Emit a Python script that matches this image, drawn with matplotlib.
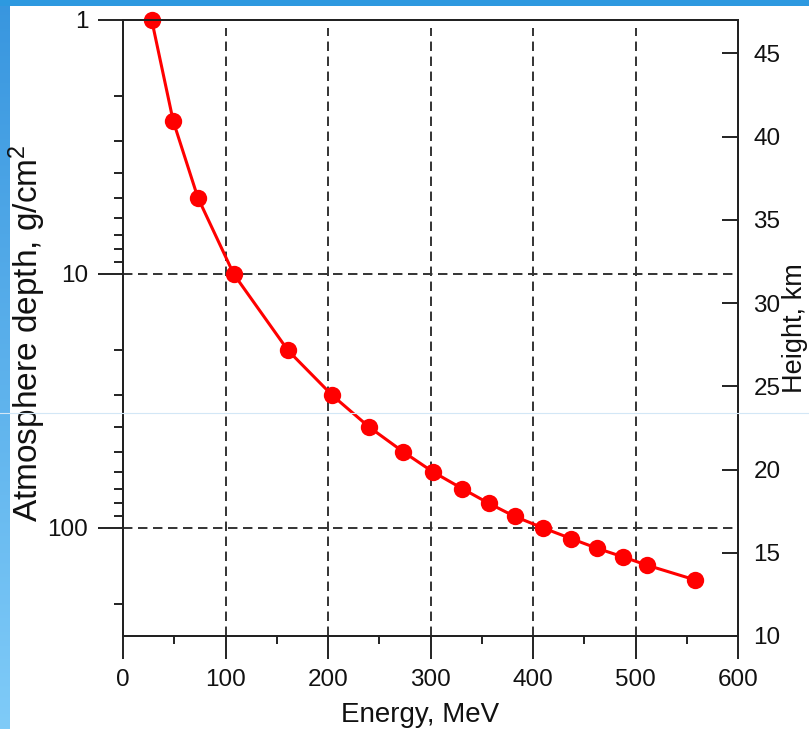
import numpy as np
import matplotlib
matplotlib.use("Agg")
import matplotlib.pyplot as plt
from matplotlib.ticker import FixedLocator, MultipleLocator, LogLocator, NullFormatter, FuncFormatter
from matplotlib.lines import Line2D
from matplotlib.colors import LinearSegmentedColormap

# ---- data ----
energy_mev = [28, 49, 73, 108, 161, 204, 240, 273, 302, 331, 357, 382, 410, 437, 462, 488, 511, 558]
depth_gcm2 = [1, 2.5, 5, 10, 20, 30, 40, 50, 60, 70, 80, 90, 100, 110, 120, 130, 140, 160]
x_ticks = [0, 100, 200, 300, 400, 500, 600]
depth_ticks = [1, 10, 100]
height_ticks = [10, 15, 20, 25, 30, 35, 40, 45]
x_label = "Energy, MeV"
y_label = "Atmosphere depth, g/cm$^2$"
y2_label = "Height, km"

plt.rcParams['font.family'] = ['Liberation Sans', 'DejaVu Sans']
plt.rcParams['mathtext.fontset'] = 'custom'
plt.rcParams['mathtext.rm'] = 'Liberation Sans'
plt.rcParams['mathtext.it'] = 'Liberation Sans'
plt.rcParams['lines.scale_dashes'] = False

W, H = 809, 729
fig = plt.figure(figsize=(W / 100, H / 100), dpi=100)
fig.patch.set_facecolor('white')

txt = '#111111'
spc = '#222222'

# blue slide border
band = fig.add_axes([0, 0, 10 / W, 1])
grad = np.linspace(0, 1, 256).reshape(-1, 1)
cmap = LinearSegmentedColormap.from_list('b', ['#3896DF', '#7FCBF8'])
band.imshow(grad, aspect='auto', cmap=cmap, extent=[0, 1, 0, 1], origin='upper')
band.axis('off')
top = fig.add_axes([0, 1 - 6 / H, 1, 6 / H])
top.set_facecolor('#2D99E0')
top.set_xticks([]); top.set_yticks([])
for s in top.spines.values():
    s.set_visible(False)

ax = fig.add_axes([123 / W, 93 / H, 615 / W, 616 / H])
ax.set_facecolor('none')
ax.set_xlim(0, 600)
ax.set_yscale('log')
ax.set_ylim(10 ** (616 / 254), 1)

# grid
dash = (0, (6.8, 4.0))
for xv in x_ticks[1:-1]:
    ax.axvline(xv, ymin=0, ymax=0.987, color='#333333', lw=1.4, ls=dash, zorder=1)
for yv in depth_ticks[1:]:
    ax.axhline(yv, xmin=0, xmax=0.992, color='#333333', lw=1.4, ls=dash, zorder=1)

ax.plot(energy_mev, depth_gcm2, color='#FF0000', lw=2.2, marker='o', ms=12.5,
        markeredgewidth=0, zorder=3, clip_on=False)

ax.xaxis.set_major_locator(FixedLocator(x_ticks))
ax.xaxis.set_minor_locator(MultipleLocator(50))
ax.yaxis.set_major_locator(FixedLocator(depth_ticks))
ax.yaxis.set_minor_locator(LogLocator(base=10, subs=np.arange(2, 10)))
ax.yaxis.set_major_formatter(FuncFormatter(lambda v, p: f"{v:g}"))
ax.yaxis.set_minor_formatter(NullFormatter())

ax.tick_params(axis='x', which='major', direction='out', length=16.5, width=1.4, color=spc,
               labelsize=17.5, labelcolor=txt, pad=7, top=False)
ax.tick_params(axis='x', which='minor', direction='out', length=6, width=1.4, color=spc, top=False)
ax.tick_params(axis='y', which='major', direction='out', length=18, width=1.4, color=spc,
               labelsize=17.5, labelcolor=txt, pad=7, right=False)
ax.tick_params(axis='y', which='minor', direction='out', length=6.5, width=1.4, color=spc, right=False)
for s in ax.spines.values():
    s.set_linewidth(1.4)
    s.set_color(spc)

ax2 = ax.twinx()
ax2.set_ylim(10, 47)
ax2.yaxis.set_major_locator(FixedLocator(height_ticks))
ax2.tick_params(axis='y', which='major', direction='in', length=11.5, width=1.4, color=spc,
                labelsize=17.5, labelcolor=txt, pad=11)
ax2.tick_params(axis='y', which='minor', length=0)
for s in ax2.spines.values():
    s.set_linewidth(1.4)
    s.set_color(spc)

fig.text(27 / W, 1 - 333 / H, y_label, rotation=90, ha='center', va='center',
         fontsize=24, color=txt)
fig.text(808 / W, 1 - 328 / H, y2_label, rotation=90, ha='right', va='center',
         fontsize=19.5, color=txt)
fig.text(420 / W, 1 - 722 / H, x_label, ha='center', va='baseline', fontsize=20, color=txt)

# faint slide artifact line
fig.add_artist(Line2D([0, 1], [1 - 413 / H, 1 - 413 / H], transform=fig.transFigure,
                      color='#d3e7f6', lw=0.8, zorder=10))

fig.savefig('out.png', dpi=100)
